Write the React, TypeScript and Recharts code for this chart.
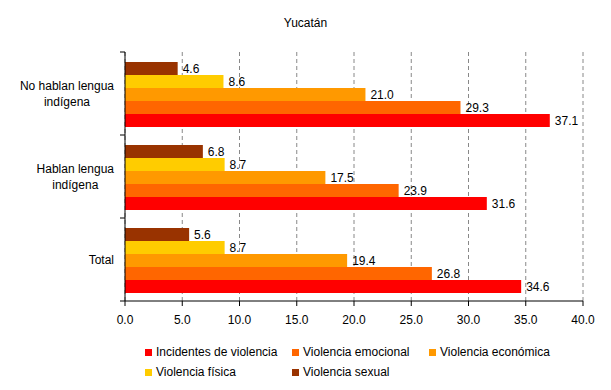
import { BarChart, Bar, XAxis, YAxis, CartesianGrid, LabelList } from 'recharts';

const FONT = '"Liberation Sans", Arial, Helvetica, sans-serif';

const title = 'Yucatán';
const categories = ['No hablan lengua indígena', 'Hablan lengua indígena', 'Total'];
const categoryLines = [['No hablan lengua', 'indígena'], ['Hablan lengua', 'indígena'], ['Total']];

const incidentes = [37.1, 31.6, 34.6];
const emocional = [29.3, 23.9, 26.8];
const economica = [21.0, 17.5, 19.4];
const fisica = [8.6, 8.7, 8.7];
const sexual = [4.6, 6.8, 5.6];

const xTicks = [0, 5, 10, 15, 20, 25, 30, 35, 40];

// legend order (as shown under the chart)
const series = [
    { key: 'incidentes', name: 'Incidentes de violencia', color: '#FF0000' },
    { key: 'emocional', name: 'Violencia emocional', color: '#FF6600' },
    { key: 'economica', name: 'Violencia económica', color: '#FF9900' },
    { key: 'fisica', name: 'Violencia física', color: '#FFCC00' },
    { key: 'sexual', name: 'Violencia sexual', color: '#993300' },
];

// bars are drawn top to bottom: sexual first, incidentes last
const barOrder = ['sexual', 'fisica', 'economica', 'emocional', 'incidentes'];

const data = categories.map((name, i) => ({
    name,
    incidentes: incidentes[i],
    emocional: emocional[i],
    economica: economica[i],
    fisica: fisica[i],
    sexual: sexual[i],
}));

const W = 611;
const H = 390;
const PLOT_LEFT = 125;
const PLOT_TOP = 52;
const PLOT_BOTTOM = 301;
const PLOT_RIGHT = 583;
const BAND = (PLOT_BOTTOM - PLOT_TOP) / categories.length;

let measureCtx: CanvasRenderingContext2D | null = null;
function textWidth(text: string): number {
    if (!measureCtx) {
        measureCtx = document.createElement('canvas').getContext('2d');
    }
    if (!measureCtx) return text.length * 6;
    measureCtx.font = `12px ${FONT}`;
    return measureCtx.measureText(text).width;
}

function CategoryTick(props: any) {
    const { y, payload } = props;
    const idx = categories.indexOf(payload.value);
    const lines = categoryLines[idx] ?? [payload.value];
    const maxW = Math.max(...lines.map(textWidth));
    const cx = PLOT_LEFT - 11 - maxW / 2;
    const startY = y - ((lines.length - 1) * 16) / 2;
    return (
        <g>
            <line x1={PLOT_LEFT - 5} x2={PLOT_LEFT} y1={y - BAND / 2} y2={y - BAND / 2} stroke="#000" />
            {idx === categories.length - 1 && (
                <line x1={PLOT_LEFT - 5} x2={PLOT_LEFT} y1={y + BAND / 2} y2={y + BAND / 2} stroke="#000" />
            )}
            <text x={cx} y={startY} textAnchor="middle" dominantBaseline="central" fontSize={12} fontFamily={FONT} fill="#000">
                {lines.map((line, i) => (
                    <tspan key={i} x={cx} dy={i === 0 ? 0 : 16}>
                        {line}
                    </tspan>
                ))}
            </text>
        </g>
    );
}

export default function App() {
    return (
        <div style={{ position: 'absolute', left: 0, top: 0, width: W, height: H, background: '#fff', fontFamily: FONT }}>
            <div style={{ position: 'absolute', left: 0, width: W, top: 16, textAlign: 'center', fontSize: 12, color: '#000' }}>
                {title}
            </div>
            <BarChart
                width={W}
                height={H}
                data={data}
                layout="vertical"
                margin={{ top: PLOT_TOP, right: W - PLOT_RIGHT, bottom: H - PLOT_BOTTOM - 30, left: 0 }}
                barCategoryGap={10}
                barGap={0}
            >
                <CartesianGrid horizontal={false} stroke="#888" strokeDasharray="4 3" />
                <XAxis
                    type="number"
                    domain={[0, 40]}
                    ticks={xTicks}
                    interval={0}
                    height={30}
                    tickFormatter={(v) => Number(v).toFixed(1)}
                    tick={{ fontSize: 12, fill: '#000', fontFamily: FONT }}
                    tickSize={5}
                    tickMargin={9}
                    stroke="#000"
                />
                <YAxis
                    type="category"
                    dataKey="name"
                    width={PLOT_LEFT}
                    tickLine={false}
                    tick={<CategoryTick />}
                    stroke="#000"
                    interval={0}
                />
                {barOrder.map((key) => {
                    const s = series.find((x) => x.key === key)!;
                    return (
                        <Bar key={key} dataKey={key} name={s.name} fill={s.color} isAnimationActive={false}>
                            <LabelList
                                dataKey={key}
                                position="right"
                                offset={5}
                                formatter={(v: any) => Number(v).toFixed(1)}
                                style={{ fontSize: 12, fill: '#000', fontFamily: FONT }}
                            />
                        </Bar>
                    );
                })}
            </BarChart>
            <div
                style={{
                    position: 'absolute',
                    left: 145,
                    top: 344,
                    display: 'grid',
                    gridTemplateColumns: '147px 137px auto',
                    rowGap: 4,
                    fontSize: 12,
                    color: '#000',
                }}
            >
                {series.map((s) => (
                    <div key={s.key} style={{ display: 'flex', alignItems: 'center', height: 16, whiteSpace: 'nowrap' }}>
                        <span style={{ width: 7, height: 7, background: s.color, marginRight: 4, display: 'inline-block' }} />
                        <span>{s.name}</span>
                    </div>
                ))}
            </div>
        </div>
    );
}
